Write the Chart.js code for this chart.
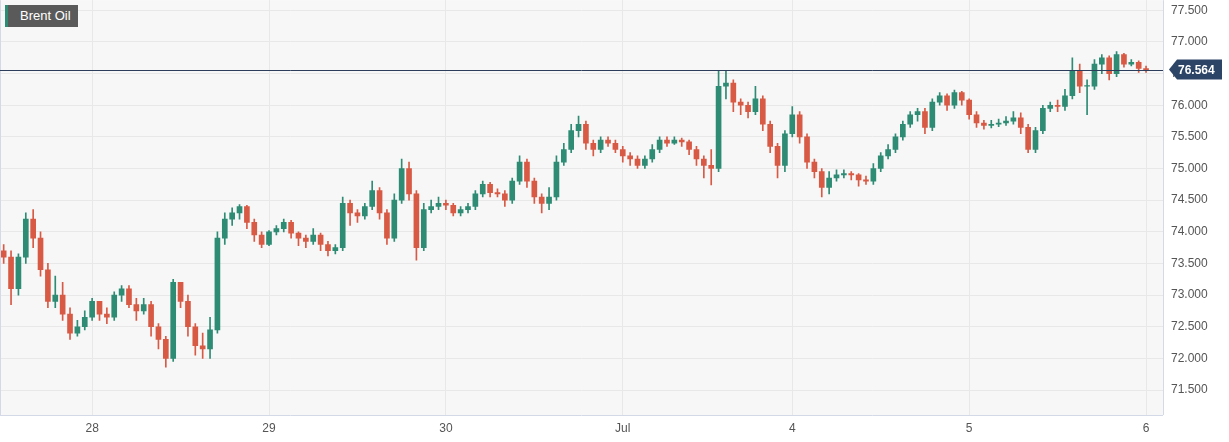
<!DOCTYPE html>
<html><head><meta charset="utf-8">
<script src="https://cdn.jsdelivr.net/npm/chart.js@4/dist/chart.umd.min.js"></script>
<style>
html,body{margin:0;padding:0;background:#fff;overflow:hidden;}
#wrap{position:relative;width:1229px;height:442px;overflow:hidden;}
#c{position:absolute;left:0;top:-15px;}
#leg{position:absolute;left:5px;top:5px;height:22px;width:73px;background:#5a5a5a;color:#fff;font:13px "Liberation Sans",Arial,sans-serif;line-height:22px;box-sizing:border-box;padding-left:12px;border-left:3px solid #2e8b74;}
</style></head><body>
<div id="wrap"><canvas id="c" width="1229" height="457"></canvas><div id="leg">Brent Oil</div></div>
<script>
const firstOpen = 73.7;
const closes = [73.6,73.1,73.6,74.2,73.9,73.4,72.9,73.0,72.7,72.4,72.5,72.65,72.9,72.7,72.65,73.0,73.1,72.85,72.75,72.85,72.5,72.3,72.0,73.2,72.9,72.5,72.2,72.15,72.45,73.9,74.2,74.3,74.4,74.15,73.95,73.8,74.0,74.05,74.15,73.98,73.9,73.85,73.95,73.8,73.7,73.75,74.45,74.3,74.25,74.4,74.65,74.3,73.9,74.5,75.0,74.6,73.75,74.35,74.4,74.45,74.42,74.3,74.35,74.4,74.6,74.75,74.62,74.6,74.5,74.8,75.1,74.8,74.55,74.45,74.55,75.1,75.3,75.6,75.7,75.4,75.3,75.45,75.4,75.3,75.2,75.15,75.05,75.15,75.3,75.45,75.4,75.45,75.42,75.3,75.15,75.05,75.0,76.3,76.35,76.05,76.0,75.9,76.1,75.7,75.35,75.05,75.55,75.85,75.5,75.1,74.95,74.7,74.85,74.9,74.92,74.9,74.82,74.8,75.0,75.2,75.3,75.5,75.7,75.85,75.9,75.65,76.05,76.15,76.0,76.2,76.08,75.85,75.72,75.68,75.7,75.72,75.75,75.8,75.65,75.3,75.6,75.95,76.0,75.98,76.15,76.55,76.3,76.3,76.65,76.75,76.5,76.8,76.65,76.68,76.58,76.56];
const highs = [73.8,73.7,73.65,74.3,74.35,74.0,73.5,73.3,73.2,72.8,72.6,72.75,72.95,72.9,72.8,73.05,73.15,73.15,72.95,72.95,72.9,72.55,72.35,73.25,73.2,73.0,72.55,72.4,72.65,74.0,74.3,74.38,74.43,74.42,74.2,74.0,74.02,74.1,74.2,74.18,74.0,73.95,74.05,73.98,73.85,73.8,74.55,74.5,74.35,74.45,74.8,74.7,74.35,74.6,75.15,75.1,74.65,74.45,74.5,74.55,74.5,74.45,74.4,74.45,74.65,74.8,74.78,74.68,74.65,74.85,75.2,75.15,74.85,74.6,74.7,75.2,75.4,75.7,75.83,75.75,75.45,75.5,75.5,75.45,75.35,75.25,75.2,75.2,75.38,75.5,75.5,75.5,75.48,75.45,75.35,75.2,75.3,76.55,76.55,76.4,76.1,76.05,76.3,76.15,75.75,75.4,75.6,75.98,75.9,75.55,75.15,75.0,74.95,74.98,74.98,74.95,74.92,74.88,75.08,75.25,75.38,75.55,75.75,75.9,75.95,75.95,76.1,76.2,76.18,76.24,76.22,76.1,75.9,75.76,75.76,75.78,75.82,75.9,75.88,75.7,75.65,76.0,76.05,76.08,76.25,76.75,76.65,76.4,76.72,76.8,76.78,76.85,76.82,76.72,76.7,76.62];
const lows = [73.5,72.85,73.0,73.5,73.75,73.3,72.8,72.8,72.6,72.3,72.35,72.45,72.6,72.6,72.55,72.6,72.9,72.8,72.6,72.7,72.35,72.15,71.86,71.95,72.8,72.35,72.05,72.0,72.0,72.4,73.8,74.1,74.2,74.05,73.85,73.75,73.78,73.95,74.0,73.9,73.78,73.75,73.8,73.7,73.62,73.65,73.7,74.1,74.15,74.2,74.35,74.2,73.8,73.85,74.45,74.5,73.55,73.7,74.3,74.35,74.35,74.25,74.25,74.3,74.35,74.55,74.55,74.55,74.4,74.45,74.75,74.7,74.45,74.3,74.35,74.5,75.05,75.25,75.5,75.3,75.2,75.25,75.35,75.25,75.1,75.05,75.0,75.0,75.1,75.25,75.35,75.38,75.35,75.22,75.05,74.85,74.74,74.95,76.1,75.9,75.85,75.8,75.85,75.6,75.25,74.85,74.95,75.5,75.4,75.0,74.85,74.55,74.6,74.8,74.85,74.82,74.72,74.75,74.75,74.95,75.15,75.25,75.45,75.65,75.75,75.55,75.6,76.0,75.92,75.95,76.0,75.78,75.65,75.62,75.64,75.66,75.68,75.7,75.55,75.25,75.25,75.55,75.9,75.9,75.92,76.1,76.2,75.85,76.25,76.5,76.4,76.45,76.6,76.62,76.52,76.52];
const dayTickIdx = [12,36,60,84,107,131,155];
const dayTickLabels = ['28','29','30','Jul','4','5','6'];
const lastPrice = 76.564;

const opens = closes.map((c,i)=> i===0 ? firstOpen : closes[i-1]);
const up = closes.map((c,i)=> c>=opens[i]);
const GREEN='#2e8b74', RED='#d85a45';
const colors = up.map(u=>u?GREEN:RED);

const bgPlugin={id:'bg',beforeDraw(ch){const a=ch.chartArea,x=ch.ctx;x.save();x.fillStyle='#f7f7f7';x.fillRect(a.left,a.top,a.right-a.left,a.bottom-a.top);x.restore();},
afterDraw(ch){const a=ch.chartArea,x=ch.ctx,y=ch.scales.y.getPixelForValue(lastPrice);x.save();
x.strokeStyle='#d3d9e6';x.lineWidth=1;x.beginPath();x.moveTo(a.left+0.5,a.top);x.lineTo(a.left+0.5,a.bottom);x.moveTo(a.right+0.5,a.top);x.lineTo(a.right+0.5,a.bottom);x.moveTo(a.left,a.bottom+0.5);x.lineTo(a.right,a.bottom+0.5);x.stroke();
x.strokeStyle='#2c3e5c';x.beginPath();x.moveTo(a.left,Math.round(y)+0.5);x.lineTo(a.right,Math.round(y)+0.5);x.stroke();
x.fillStyle='#2c4466';x.beginPath();const L=a.right+6;x.moveTo(L,y);x.lineTo(L+8,y-10);x.lineTo(1222,y-10);x.lineTo(1222,y+10);x.lineTo(L+8,y+10);x.closePath();x.fill();
x.fillStyle='#fff';x.font='bold 12px "Liberation Sans",Arial';x.textBaseline='middle';x.fillText(lastPrice.toFixed(3),L+9,y+1);x.restore();}};

new Chart(document.getElementById('c'),{
type:'bar',
data:{datasets:[
 {data:closes.map((c,i)=>({x:i,y:[lows[i],highs[i]]})),backgroundColor:colors,barThickness:1,grouped:false,order:2},
 {data:closes.map((c,i)=>({x:i,y:[opens[i],c===opens[i]?c+0.01:c]})),backgroundColor:colors,barThickness:5,grouped:false,order:1}
]},
options:{responsive:false,animation:false,events:[],
 layout:{padding:0},
 plugins:{legend:{display:false},tooltip:{enabled:false}},
 scales:{
  x:{type:'linear',min:-0.5,max:157.3,offset:false,
    afterBuildTicks(s){s.ticks=dayTickIdx.map(v=>({value:v}));},
    afterFit(s){s.height=27;},
    ticks:{autoSkip:false,maxRotation:0,color:'#555',font:{size:12,family:'Liberation Sans'},padding:6,callback:(v)=>{const k=dayTickIdx.indexOf(v);return k>=0?dayTickLabels[k]:'';}},
    grid:{color:'#e8e8e8',drawTicks:false,offset:false},border:{display:false}},
  y:{position:'right',min:71.105,max:77.66,
    afterBuildTicks(s){const t=[];for(let v=71.5;v<=77.51;v+=0.5)t.push({value:+v.toFixed(1)});s.ticks=t;},
    afterFit(s){s.width=66;},
    ticks:{color:'#555',font:{size:12,family:'Liberation Sans'},padding:8,callback:v=>v.toFixed(3)},
    grid:{color:'#e8e8e8',drawTicks:false},border:{display:false}}
 }},
plugins:[bgPlugin]});
</script></body></html>
